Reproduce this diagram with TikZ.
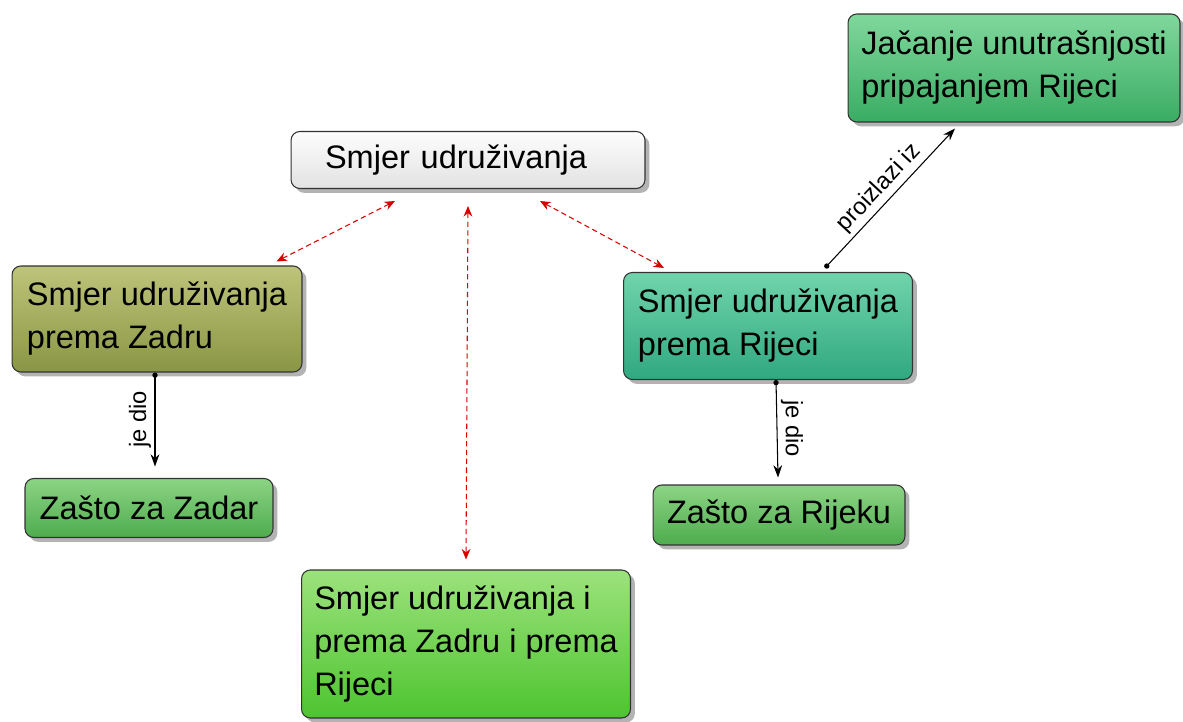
\documentclass[tikz,border=0pt]{standalone}
\usepackage{fontspec}
\setmainfont{Liberation Sans}
\definecolor{hubtop}{RGB}{253,253,253}
\definecolor{hubbot}{RGB}{226,226,226}
\definecolor{olivetop}{RGB}{190,196,122}
\definecolor{olivebot}{RGB}{138,150,68}
\definecolor{greentop}{RGB}{140,212,132}
\definecolor{greenbot}{RGB}{78,172,78}
\definecolor{limetop}{RGB}{156,226,124}
\definecolor{limebot}{RGB}{78,196,48}
\definecolor{tealtop}{RGB}{112,212,172}
\definecolor{tealbot}{RGB}{48,168,128}
\definecolor{minttop}{RGB}{128,216,156}
\definecolor{mintbot}{RGB}{58,172,100}
\usepackage{tikz}
\usetikzlibrary{positioning, arrows.meta, calc, shadows}
\tikzset{
  concept/.style={draw=black!80, semithick, rounded corners=5pt, align=left, inner xsep=6pt,
    font=\fontsize{18.5}{24.5}\selectfont,
    drop shadow={shadow xshift=2.5pt, shadow yshift=-2.5pt, opacity=0.6}},
  relwire/.style={{Circle[length=3pt]}-{Stealth[length=7pt, width=5pt]}, semithick},
  crosswire/.style={{Stealth[length=6pt, width=5pt]}-{Stealth[length=6pt, width=5pt]}, densely dashed, red!85!black, semithick},
  rellabel/.style={font=\fontsize{13.5}{14}\selectfont, inner sep=2pt}
}

\begin{document}
\begin{tikzpicture}[x=0.02cm, y=-0.02cm]
        \useasboundingbox (0,0) rectangle (1183,722);
        \node[concept, top color=hubtop, bottom color=hubbot, minimum width=7.08cm, minimum height=1.14cm, inner xsep=0.68cm, text width=5.72cm] (hub) at (468,160) {Smjer udruživanja};
        \node[concept, top color=olivetop, bottom color=olivebot, minimum width=5.8cm, minimum height=2.12cm] (zadar) at (157,319) {Smjer udruživanja\\prema Zadru};
        \node[concept, top color=greentop, bottom color=greenbot, minimum width=4.96cm, minimum height=1.18cm] (zzadar) at (149,508) {Zašto za Zadar};
        \node[concept, top color=limetop, bottom color=limebot, minimum width=6.58cm, minimum height=2.96cm] (both) at (466,644) {Smjer udruživanja i\\prema Zadru i prema\\Rijeci};
        \node[concept, top color=tealtop, bottom color=tealbot, minimum width=5.78cm, minimum height=2.14cm] (rijeka) at (768,326) {Smjer udruživanja\\prema Rijeci};
        \node[concept, top color=greentop, bottom color=greenbot, minimum width=5.04cm, minimum height=1.2cm] (zrijeka) at (779,515) {Zašto za Rijeku};
        \node[concept, top color=minttop, bottom color=mintbot, minimum width=6.64cm, minimum height=2.16cm] (jacanje) at (1014,68) {Jačanje unutrašnjosti\\pripajanjem Rijeci};
        % cross links from the hub
        \draw[crosswire] ($(hub.south)+(-73,12)$) -- ($(zadar.north east)+(-26,-4)$);
        \draw[crosswire] ($(hub.south)+(0,17)$) -- ($(both.north)+(0,-10)$);
        \draw[crosswire] ($(hub.south)+(72,12)$) -- ($(rijeka.north west)+(41,-4)$);
        % labelled links
        \draw[relwire] ($(zadar.south)+(-2,0)$) -- node[rellabel, rotate=90, anchor=south]{je dio} ($(zadar.south)+(-2,94)$);
        \draw[relwire] ($(rijeka.south)+(8,0)$) -- node[rellabel, rotate=-90, anchor=south]{je dio} ($(zrijeka.north)+(-1,-7)$);
        \draw[relwire] ($(rijeka.north)+(57,-4)$) -- node[rellabel, sloped, above]{proizlazi iz} ($(jacanje.south)+(-59,6)$);
      \end{tikzpicture}
\end{document}
